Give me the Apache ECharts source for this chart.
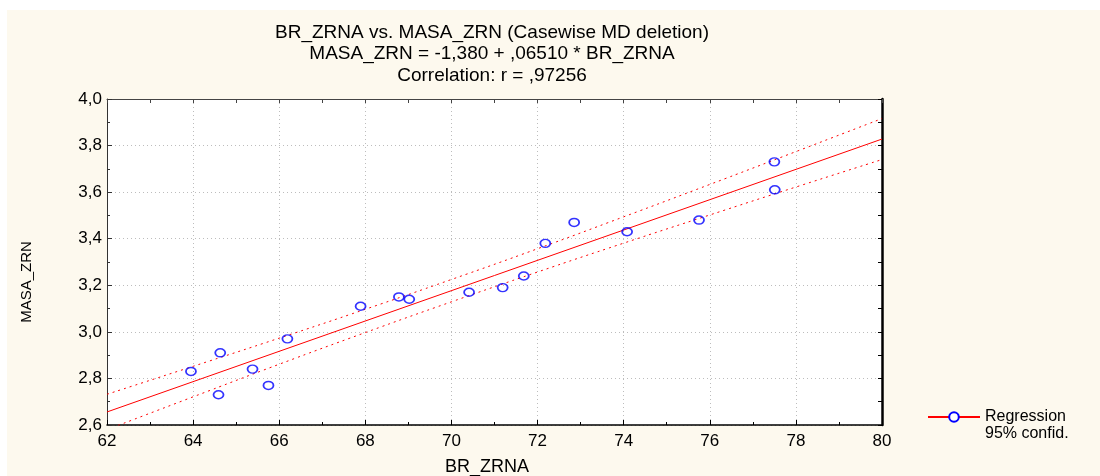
<!DOCTYPE html>
<html><head><meta charset="utf-8">
<script src="https://cdn.jsdelivr.net/npm/echarts@6/dist/echarts.min.js"></script>
<style>
html,body{margin:0;padding:0;background:#fff;overflow:hidden;}
#bg{position:absolute;left:7px;top:10px;width:1093px;height:466px;background:#fdf9ee;}
#chart{position:absolute;left:0;top:0;width:1100px;height:476px;}
</style></head><body>
<div id="bg"></div><div id="chart"></div>
<script>
// ---- data ----
const titleLines = [
  'BR_ZRNA vs. MASA_ZRN (Casewise MD deletion)',
  'MASA_ZRN = -1,380 + ,06510 * BR_ZRNA',
  'Correlation: r = ,97256'
];
const xName = 'BR_ZRNA';
const yName = 'MASA_ZRN';
const legendNames = ['Regression', '95% confid.'];
const brZrna  = [63.95, 64.63, 64.59, 65.38, 65.75, 66.19, 67.89, 68.78, 69.02, 70.41, 71.19, 71.68, 72.18, 72.85, 74.08, 75.75, 77.50, 77.51];
const masaZrn = [2.83, 2.91, 2.73, 2.84, 2.77, 2.97, 3.11, 3.15, 3.14, 3.17, 3.19, 3.24, 3.38, 3.47, 3.43, 3.48, 3.73, 3.61];
const regX = [62, 80];
const regY = [2.656, 3.828];
const bandX     = [62, 64, 66, 68, 70, 72, 74, 76, 78, 80];
const bandUpper = [2.732, 2.852, 2.973, 3.097, 3.225, 3.357, 3.494, 3.633, 3.774, 3.916];
const bandLower = [2.580, 2.721, 2.861, 2.997, 3.129, 3.257, 3.381, 3.502, 3.622, 3.740];
const xTickLabels = ['62','64','66','68','70','72','74','76','78','80'];
const yTickLabels = ['2,6','2,8','3,0','3,2','3,4','3,6','3,8','4,0'];

// ---- chart ----
const FONT = '"Liberation Sans", Arial, sans-serif';
const chart = echarts.init(document.getElementById('chart'), null, {renderer: 'canvas'});
const pts = brZrna.map((x, i) => [x, masaZrn[i]]);
const zip = (xs, ys) => xs.map((x, i) => [x, ys[i]]);
const xFmt = v => { const i = Math.round((v - 62) / 2); return xTickLabels[i] !== undefined ? xTickLabels[i] : ''; };
const yFmt = v => { const i = Math.round((v - 2.6) / 0.2); return yTickLabels[i] !== undefined ? yTickLabels[i] : ''; };

chart.setOption({
  animation: false,
  backgroundColor: 'transparent',
  textStyle: {fontFamily: FONT},
  title: {
    text: titleLines.join('\n'),
    left: 487, top: 17, textAlign: 'center',
    textStyle: {fontFamily: FONT, fontSize: 19, fontWeight: 'normal', color: '#000', lineHeight: 21.5}
  },
  legend: {
    left: 922, top: 404, orient: 'vertical',
    itemWidth: 52, itemHeight: 12, itemGap: 1,
    data: [{name: legendNames[0]}, {name: legendNames[1], icon: 'none'}],
    textStyle: {fontFamily: FONT, fontSize: 16, color: '#000'},
    selectedMode: false
  },
  grid: {left: 107, right: 218, top: 99, bottom: 51, show: true, backgroundColor: '#fff', borderWidth: 0,
         containLabel: false, outerBoundsMode: 'none'},
  xAxis: [
    {
      type: 'value', position: 'bottom', min: 62, max: 80, interval: 2,
      axisLine: {show: true, lineStyle: {color: '#000', width: 1.5}},
      axisTick: {show: true, inside: true, length: 5, lineStyle: {color: '#000'}},
      minorTick: {show: true, splitNumber: 2, length: 3, lineStyle: {color: '#000'}},
      axisLabel: {fontFamily: FONT, fontSize: 17, color: '#000', margin: 8, formatter: xFmt},
      splitLine: {show: true, lineStyle: {type: [1, 3], color: '#bdbdbd'}},
      name: xName, nameLocation: 'middle', nameGap: 33,
      nameTextStyle: {fontFamily: FONT, fontSize: 18, color: '#000', padding: [0, 15, 0, 0]}
    },
    {
      type: 'value', position: 'top', min: 62, max: 80, interval: 1,
      axisLine: {show: true, lineStyle: {color: '#444', width: 1}},
      axisTick: {show: true, inside: true, length: 4, lineStyle: {color: '#444'}},
      axisLabel: {show: false}, splitLine: {show: false}
    }
  ],
  yAxis: [
    {
      type: 'value', position: 'left', min: 2.6, max: 4.0, interval: 0.2,
      axisLine: {show: true, lineStyle: {color: '#333', width: 1}},
      axisTick: {show: true, inside: true, length: 5, lineStyle: {color: '#333'}},
      minorTick: {show: true, splitNumber: 2, length: 3, lineStyle: {color: '#333'}},
      axisLabel: {fontFamily: FONT, fontSize: 17, color: '#000', margin: 5, formatter: yFmt},
      splitLine: {show: true, lineStyle: {type: [1, 3], color: '#bdbdbd'}},
      name: yName, nameLocation: 'middle', nameGap: 73, nameRotate: 90,
      nameTextStyle: {fontFamily: FONT, fontSize: 15, color: '#000', padding: [0, 40, 0, 0]}
    },
    {
      type: 'value', position: 'right', min: 2.6, max: 4.0, interval: 0.1,
      axisLine: {show: true, lineStyle: {color: '#000', width: 2.5}},
      axisTick: {show: true, inside: true, length: 4, lineStyle: {color: '#000'}},
      axisLabel: {show: false}, splitLine: {show: false}
    }
  ],
  series: [
    {
      name: legendNames[0], type: 'line', data: zip(regX, regY),
      symbol: 'emptyCircle', showSymbol: false, silent: true,
      lineStyle: {color: '#ff0000', width: 1},
      itemStyle: {color: '#0000ff'}, z: 3
    },
    {
      name: legendNames[1], type: 'line', data: zip(bandX, bandUpper), smooth: true,
      symbol: 'none', silent: true, lineStyle: {color: '#ff0000', width: 1, type: [2, 4]}, z: 2
    },
    {
      name: 'lower', type: 'line', data: zip(bandX, bandLower), smooth: true,
      symbol: 'none', silent: true, lineStyle: {color: '#ff0000', width: 1, type: [2, 4]}, z: 2
    },
    {
      name: 'points', type: 'scatter', data: pts,
      symbol: 'circle', symbolSize: [10, 8], silent: true,
      itemStyle: {color: 'rgba(0,0,0,0)', borderColor: '#0000ff', borderWidth: 1.6}, z: 4
    }
  ]
});
</script>
</body></html>
